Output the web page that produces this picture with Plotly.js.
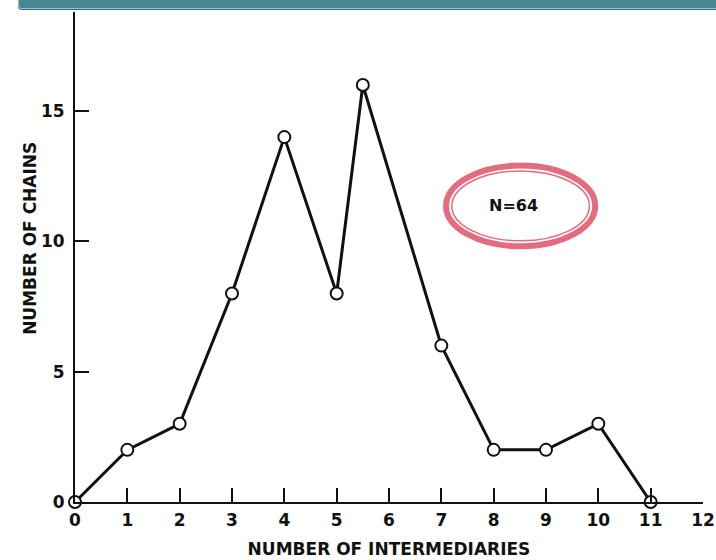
<!DOCTYPE html>
<html><head><meta charset="utf-8">
<script src="https://cdn.plot.ly/plotly-3.0.1.min.js"></script>
<style>
html,body{margin:0;padding:0;background:#fff;}
#wrap{position:relative;width:716px;height:560px;}
#chart{width:716px;height:560px;}
#bar{position:absolute;left:18px;top:0;width:698px;height:8px;background:#4a8593;border:1px solid #8cc3cd;border-top:none;border-bottom-left-radius:4px;box-shadow:0 1px 0 #3c6f7a;}
</style></head>
<body>
<div id="wrap"><div id="chart"></div><div id="bar"></div></div>
<script>
const intermediaries = [0, 1, 2, 3, 4, 5, 5.5, 7, 8, 9, 10, 11];
const chains = [0, 2, 3, 8, 14, 8, 16, 6, 2, 2, 3, 0];
const xTicks = [0,1,2,3,4,5,6,7,8,9,10,11,12];
const xTickText = ['0','1','2','3','4','5','6','7','8','9','10','11','12'];
const yTicks = [0,5,10,15];
const xTitle = 'NUMBER OF INTERMEDIARIES';
const yTitle = 'NUMBER OF CHAINS';
const annotationText = 'N=64';

const font = 'DejaVu Sans, Verdana, sans-serif';
const trace = {
  x: intermediaries, y: chains, type: 'scatter', mode: 'lines+markers',
  line: {color: '#111', width: 3},
  marker: {symbol: 'circle', size: 12, color: '#fff', line: {color: '#111', width: 2}},
  cliponaxis: false, hoverinfo: 'skip'
};
const layout = {
  width: 716, height: 560,
  margin: {l: 75, r: 13, t: 12, b: 58},
  paper_bgcolor: '#fff', plot_bgcolor: '#fff',
  showlegend: false,
  xaxis: {
    range: [0, 12], tickvals: xTicks, ticktext: xTickText,
    ticks: 'inside', ticklen: 14, tickwidth: 2, tickcolor: '#111',
    showline: true, linecolor: '#111', linewidth: 2, showgrid: false, zeroline: false,
    tickfont: {family: font, size: 17, color: '#111', weight: 'bold'}, ticklabelstandoff: 2,
    title: {text: xTitle, font: {family: font, size: 17, color: '#111', weight: 'bold'}, standoff: 14}
  },
  yaxis: {
    range: [0, 18.8], tickvals: yTicks,
    ticks: 'inside', ticklen: 14, tickwidth: 2, tickcolor: '#111',
    showline: true, linecolor: '#111', linewidth: 2, showgrid: false, zeroline: false,
    tickfont: {family: font, size: 17, color: '#111', weight: 'bold'}, ticklabelstandoff: 5
  },
  shapes: [
    {type: 'circle', xref: 'x', yref: 'y', x0: 7.09, x1: 9.94, y0: 9.81, y1: 12.91,
     line: {color: '#e46c7e', width: 6}, fillcolor: 'rgba(0,0,0,0)'},
    {type: 'circle', xref: 'x', yref: 'y', x0: 7.2, x1: 9.83, y0: 10.02, y1: 12.7,
     line: {color: '#e46c7e', width: 1.5}, fillcolor: 'rgba(0,0,0,0)'}
  ],
  annotations: [
    {x: 8.37, y: 11.36, xref: 'x', yref: 'y', text: '<b>' + annotationText + '</b>', showarrow: false,
     font: {family: font, size: 16, color: '#111'}},
    {x: -0.0717, y: 0.539, xref: 'paper', yref: 'paper', xanchor: 'center', yanchor: 'middle',
     text: '<b>' + yTitle + '</b>', textangle: -90, showarrow: false,
     font: {family: font, size: 17, color: '#111'}}
  ]
};
Plotly.newPlot('chart', [trace], layout, {displayModeBar: false, staticPlot: true});
</script>
</body></html>
